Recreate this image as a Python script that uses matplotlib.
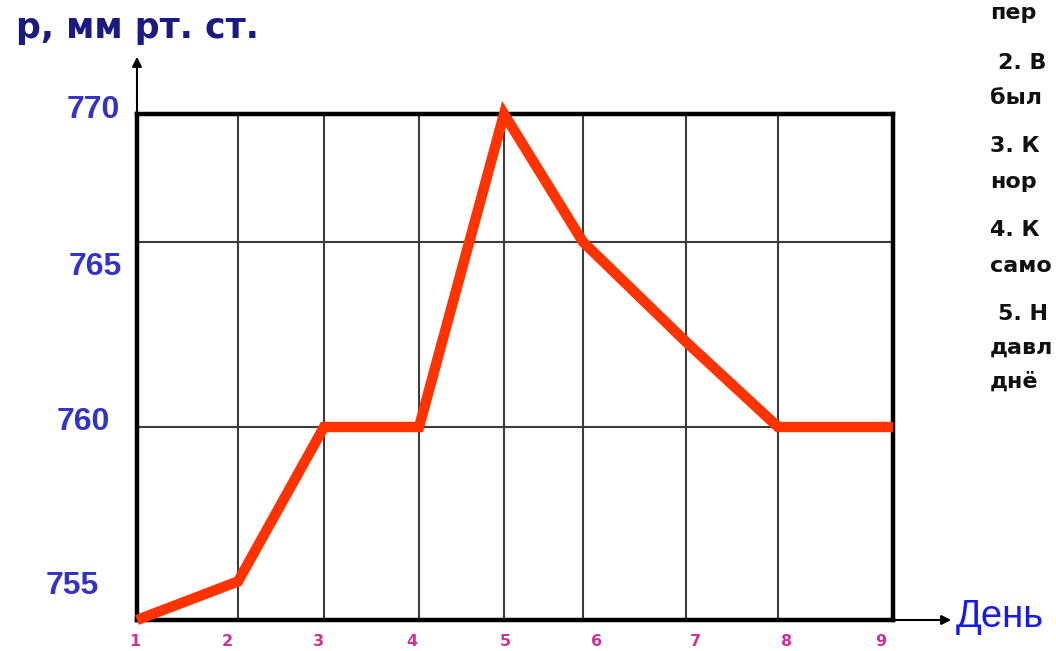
import numpy as np
import matplotlib
matplotlib.use("Agg")
import matplotlib.pyplot as plt
from matplotlib.transforms import ScaledTranslation

# ---------------- data ----------------
days = [1, 2, 3, 4, 5, 6, 7, 8, 9]
pressure = [755, 756, 760, 760, 770, 765, 762.3, 760, 760]
day_labels = ["1", "2", "3", "4", "5", "6", "7", "8", "9"]
y_ticks = [755, 760, 765, 770]
y_tick_labels = ["755", "760", "765", "770"]
y_title = "р, мм рт. ст."
x_title = "День"
side_lines = ["пер", "2. В", "был", "3. К", "нор", "4. К", "само", "5. Н", "давл", "днё"]

# ---------------- layout / style ----------------
W, H, DPI = 1056, 651, 100
# the hand-drawn grid of the original is not evenly spaced: piecewise scales
x_knot_pos = [0, 101, 187, 282, 367, 446, 549, 641, 756]
y_knot_pos = [0, 193, 378, 506]


def piecewise(xv, yv):
    xv = np.asarray(xv, float)
    yv = np.asarray(yv, float)
    s0 = (yv[1] - yv[0]) / (xv[1] - xv[0])
    s1 = (yv[-1] - yv[-2]) / (xv[-1] - xv[-2])

    def f(v):
        v = np.asarray(v, float)
        out = np.interp(v, xv, yv)
        out = np.where(v < xv[0], yv[0] + (v - xv[0]) * s0, out)
        out = np.where(v > xv[-1], yv[-1] + (v - xv[-1]) * s1, out)
        return out
    return f


fig = plt.figure(figsize=(W / DPI, H / DPI), dpi=DPI)
fig.patch.set_facecolor("white")
ax = fig.add_axes([137 / W, (H - 620) / H, (893 - 137) / W, (620 - 114) / H])

ax.set_xscale("function", functions=(piecewise(days, x_knot_pos), piecewise(x_knot_pos, days)))
ax.set_yscale("function", functions=(piecewise(y_ticks, y_knot_pos), piecewise(y_knot_pos, y_ticks)))
ax.set_xlim(days[0], days[-1])
ax.set_ylim(y_ticks[0], y_ticks[-1])

ax.plot(days, pressure, color="#ff3300", lw=7.5, solid_joinstyle="miter",
        solid_capstyle="butt", zorder=5, clip_on=False)

ax.set_xticks(days)
ax.set_xticklabels(day_labels)
ax.set_yticks(y_ticks)
ax.set_yticklabels(y_tick_labels)
ax.grid(True, color="#3c3c3c", lw=1.5, zorder=1)
ax.set_axisbelow(True)
ax.tick_params(length=0)
for sp in ax.spines.values():
    sp.set_linewidth(3.2)
    sp.set_color("black")
    sp.set_zorder(4)

# x tick labels (magenta)
ax.tick_params(axis="x", pad=10)
x_lab_dx = [-2, -11, -6, -7, 1, 14, 9, 9, -12]
for lab, dx in zip(ax.get_xticklabels(), x_lab_dx):
    lab.set_color("#cc3399")
    lab.set_fontweight("bold")
    lab.set_fontfamily("DejaVu Sans")
    lab.set_fontsize(11.5)
    lab.set_transform(lab.get_transform() + ScaledTranslation(dx / DPI, 0, fig.dpi_scale_trans))

# y tick labels (blue)
ax.tick_params(axis="y", pad=0)
y_lab_dx = [-38, -27, -15, -17]
y_lab_dy = [38, 8, -22, 7]
for lab, dx, dy in zip(ax.get_yticklabels(), y_lab_dx, y_lab_dy):
    lab.set_color("#3434c4")
    lab.set_fontweight("bold")
    lab.set_fontfamily("Liberation Sans")
    lab.set_fontsize(23)
    lab.set_transform(lab.get_transform() + ScaledTranslation(dx / DPI, dy / DPI, fig.dpi_scale_trans))

# axis arrows
ax.annotate("", xy=(0, 1.113), xytext=(0, 1.0), xycoords="axes fraction",
            arrowprops=dict(arrowstyle="-|>", lw=1.5, color="black", mutation_scale=14,
                            shrinkA=0, shrinkB=0), annotation_clip=False)
ax.annotate("", xy=(1.077, 0), xytext=(1.0, 0), xycoords="axes fraction",
            arrowprops=dict(arrowstyle="-|>", lw=1.5, color="black", mutation_scale=14,
                            shrinkA=0, shrinkB=0), annotation_clip=False)

# titles
fig.text(16 / W, (H - 38) / H, y_title, fontsize=25, fontweight="bold",
         family="DejaVu Sans", color="#1a1a80", va="baseline", ha="left")
fig.text(956 / W, (H - 627) / H, x_title, fontsize=27.5, family="Liberation Sans",
         color="#1a1ae6", va="baseline", ha="left")

# cropped question text on the right
side_x = [990, 998, 990, 990, 990, 990, 990, 998, 990, 990]
side_base = [19, 69, 104, 152, 188, 236, 272, 320, 354, 388]
for s, x, b in zip(side_lines, side_x, side_base):
    fig.text(x / W, (H - b) / H, s, fontsize=16, fontweight="bold",
             family="DejaVu Sans", color="#111111", va="baseline", ha="left")

fig.savefig("out.png", dpi=DPI, facecolor="white")
